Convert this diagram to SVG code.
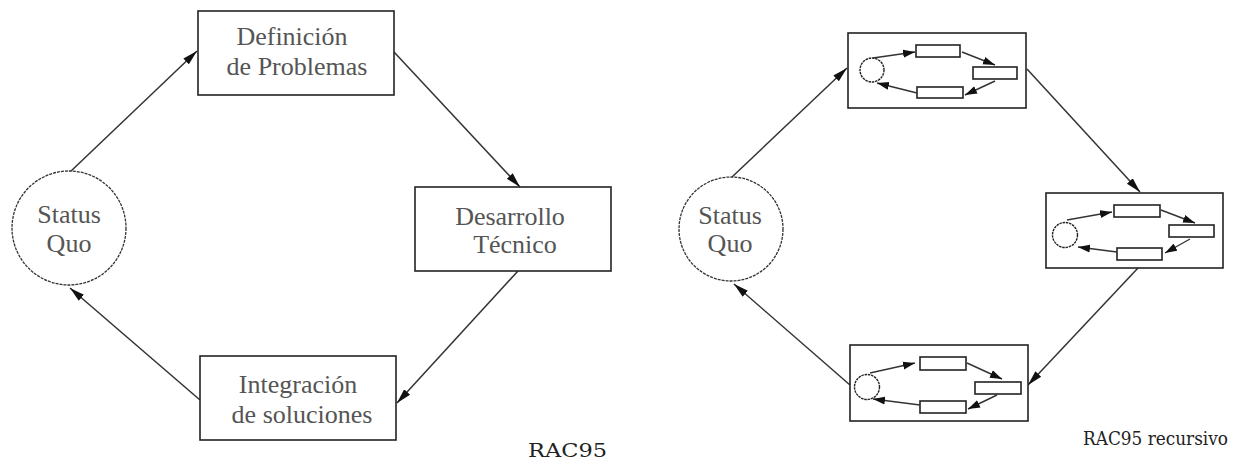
<svg xmlns="http://www.w3.org/2000/svg" width="1238" height="471" viewBox="0 0 1238 471">
<style>
.box{fill:#fff;stroke:#222;stroke-width:1.6}
.sq{fill:#fff;stroke:#333;stroke-width:1.3;stroke-dasharray:3 1}
.mini{fill:#fff;stroke:#222;stroke-width:1.6}
.minic{fill:#fff;stroke:#222;stroke-width:1.4;stroke-dasharray:2.5 0.8}
.c{fill:none;stroke:#333;stroke-width:1.5}
.mc{fill:none;stroke:#333;stroke-width:1.4}
.t{font-family:"Liberation Serif","Times New Roman",serif;font-size:26px;fill:#555;text-anchor:middle}
.lbl{font-family:"DejaVu Serif",serif;font-size:18px;fill:#222}
</style>
<defs>
<marker id="ah" markerUnits="userSpaceOnUse" markerWidth="16" markerHeight="10" refX="15" refY="5" orient="auto"><path d="M0,1 L15,5 L0,9 Z" fill="#111"/></marker>
<marker id="ahs" markerUnits="userSpaceOnUse" markerWidth="13" markerHeight="9" refX="12" refY="4.5" orient="auto"><path d="M0,0.5 L12,4.5 L0,8.5 Z" fill="#111"/></marker>
</defs>

<g id="connectors">
<line class="c" x1="70" y1="172" x2="197" y2="51" marker-end="url(#ah)"/>
<line class="c" x1="394" y1="52" x2="520" y2="187" marker-end="url(#ah)"/>
<line class="c" x1="518" y1="271" x2="397" y2="403" marker-end="url(#ah)"/>
<line class="c" x1="200" y1="400" x2="70" y2="288" marker-end="url(#ah)"/>
<line class="c" x1="732" y1="177" x2="847" y2="68" marker-end="url(#ah)"/>
<line class="c" x1="1027" y1="69" x2="1140" y2="192" marker-end="url(#ah)"/>
<line class="c" x1="1138" y1="268" x2="1028" y2="385" marker-end="url(#ah)"/>
<line class="c" x1="850" y1="385" x2="734" y2="284" marker-end="url(#ah)"/>
</g>

<g id="status-quo-left">
<circle class="sq" cx="69" cy="228" r="57"/>
<text class="t" x="69" y="223">Status</text>
<text class="t" x="69" y="252">Quo</text>
</g>
<g id="definicion">
<rect class="box" x="198" y="11" width="196" height="84"/>
<text class="t" x="292" y="45">Definición</text>
<text class="t" x="297" y="75">de Problemas</text>
</g>
<g id="desarrollo">
<rect class="box" x="415" y="187" width="196" height="84"/>
<text class="t" x="510" y="225">Desarrollo</text>
<text class="t" x="515" y="253">Técnico</text>
</g>
<g id="integracion">
<rect class="box" x="200" y="356" width="196" height="84"/>
<text class="t" x="298" y="393">Integración</text>
<text class="t" x="302" y="423">de soluciones</text>
</g>
<g id="label-left">
<text class="lbl" x="528" y="457" textLength="79" lengthAdjust="spacingAndGlyphs">RAC95</text>
</g>

<g id="status-quo-right">
<circle class="sq" cx="731" cy="229" r="52"/>
<text class="t" x="730" y="224">Status</text>
<text class="t" x="730" y="252">Quo</text>
</g>

<g id="mini-top">
<rect class="box" x="848" y="33" width="178" height="75"/>
<circle class="minic" cx="872" cy="70" r="12"/>
<rect class="mini" x="916" y="45" width="44" height="12"/>
<rect class="mini" x="973" y="67" width="44" height="12"/>
<rect class="mini" x="917" y="87" width="46" height="11"/>
<line class="mc" x1="873" y1="58" x2="915" y2="52" marker-end="url(#ahs)"/>
<line class="mc" x1="962" y1="52" x2="995" y2="65" marker-end="url(#ahs)"/>
<line class="mc" x1="995" y1="81" x2="965" y2="95" marker-end="url(#ahs)"/>
<line class="mc" x1="917" y1="93" x2="877" y2="83" marker-end="url(#ahs)"/>
</g>

<g id="mini-middle">
<rect class="box" x="1046" y="193" width="177" height="75"/>
<circle class="minic" cx="1065" cy="235" r="12.5"/>
<rect class="mini" x="1114" y="205" width="46" height="12"/>
<rect class="mini" x="1169" y="225" width="45" height="12"/>
<rect class="mini" x="1117" y="248" width="45" height="12"/>
<line class="mc" x1="1067" y1="220" x2="1112" y2="212" marker-end="url(#ahs)"/>
<line class="mc" x1="1161" y1="210" x2="1195" y2="223" marker-end="url(#ahs)"/>
<line class="mc" x1="1190" y1="239" x2="1165" y2="253" marker-end="url(#ahs)"/>
<line class="mc" x1="1117" y1="252" x2="1078" y2="247" marker-end="url(#ahs)"/>
</g>

<g id="mini-bottom">
<rect class="box" x="850" y="345" width="178" height="76"/>
<circle class="minic" cx="867" cy="387" r="12.5"/>
<rect class="mini" x="920" y="357" width="46" height="13"/>
<rect class="mini" x="975" y="382" width="46" height="12"/>
<rect class="mini" x="920" y="401" width="46" height="12"/>
<line class="mc" x1="870" y1="373" x2="915" y2="363" marker-end="url(#ahs)"/>
<line class="mc" x1="967" y1="363" x2="1002" y2="379" marker-end="url(#ahs)"/>
<line class="mc" x1="997" y1="395" x2="968" y2="409" marker-end="url(#ahs)"/>
<line class="mc" x1="920" y1="405" x2="873" y2="399" marker-end="url(#ahs)"/>
</g>

<g id="label-right">
<text class="lbl" x="1083" y="445" font-size="16" textLength="145" lengthAdjust="spacingAndGlyphs">RAC95 recursivo</text>
</g>
</svg>
